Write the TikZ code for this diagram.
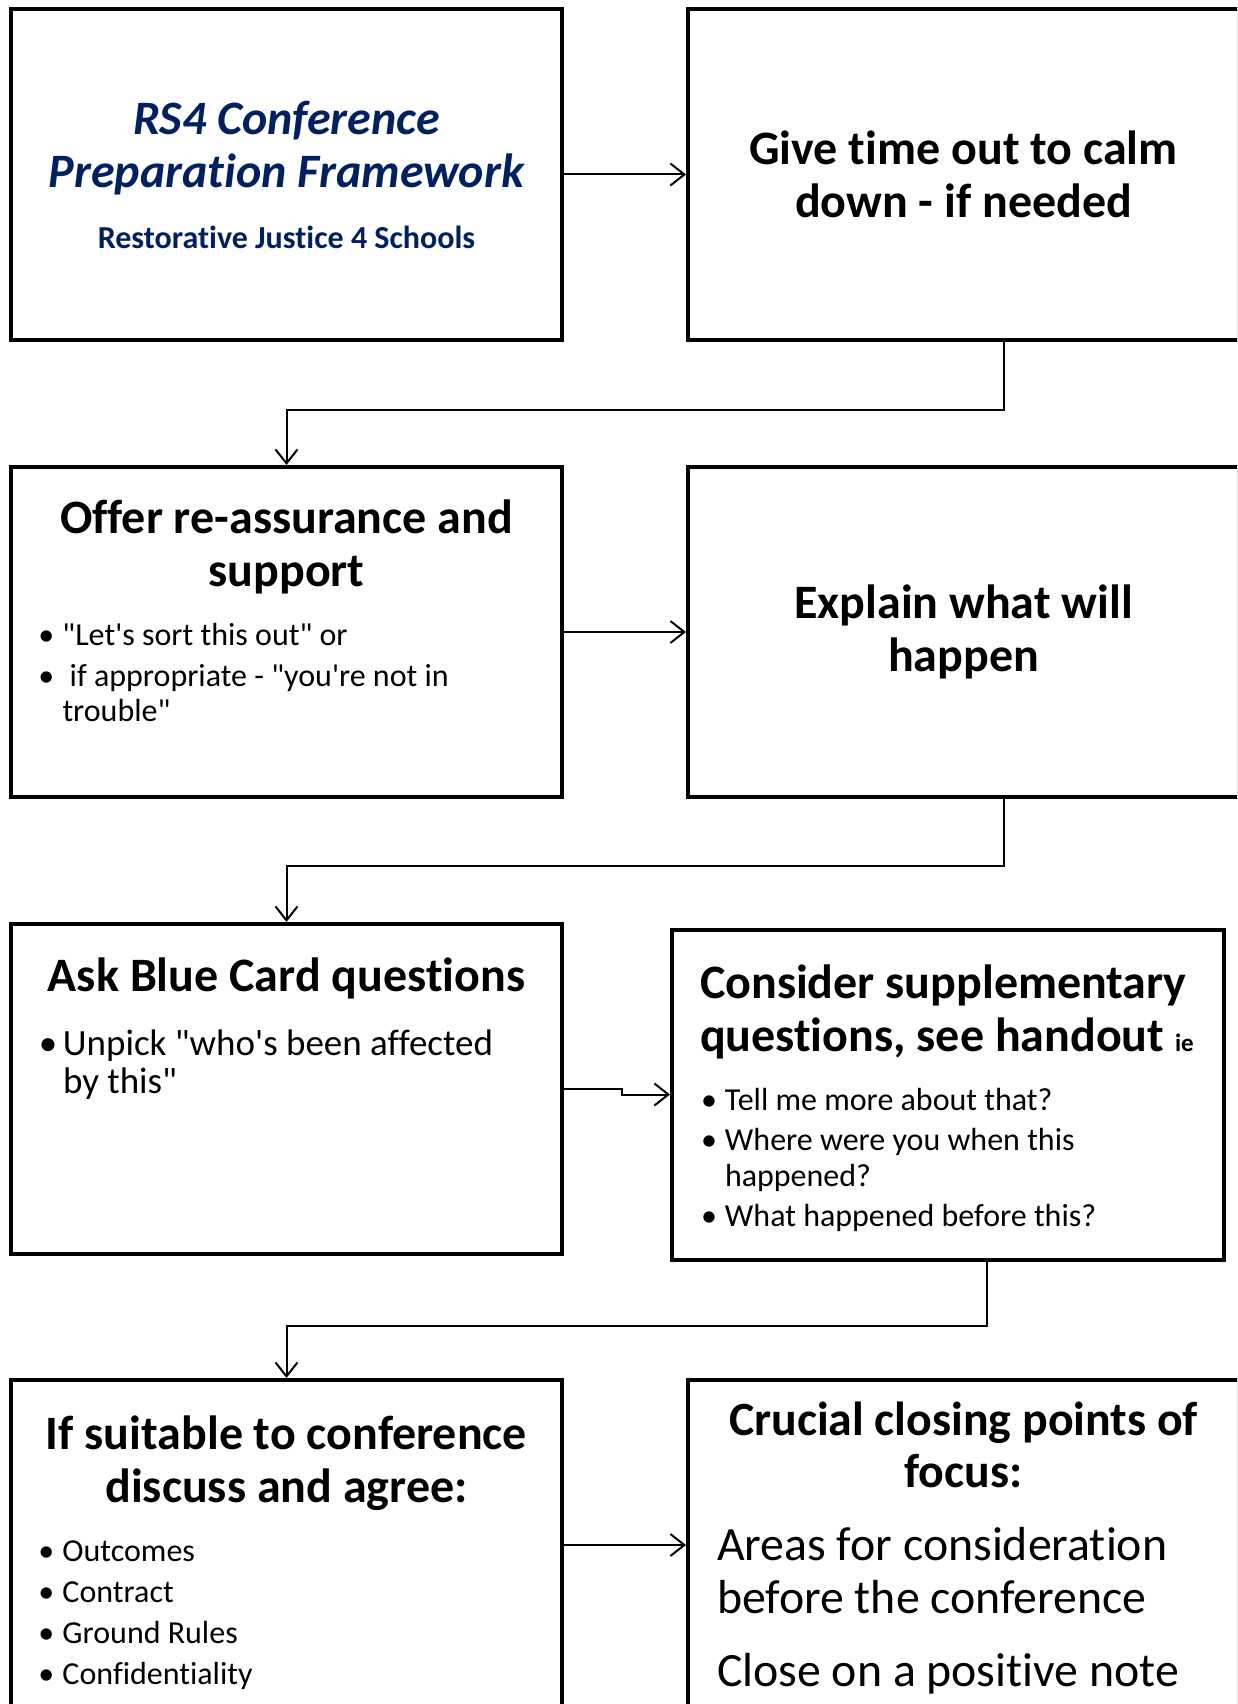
\documentclass[tikz,border=0pt]{standalone}
\usepackage{fontspec}
\setmainfont{Carlito}[Ligatures={TeXOff,NoCommon}]
\usepackage{tikz}
\usetikzlibrary{arrows.meta, positioning, calc}

\definecolor{rjnavy}{HTML}{002060}
\newcommand{\fixsp}{\spaceskip=0pt\xspaceskip=0pt\relax}
\newcommand{\nl}{\hfil\break}
\newcommand{\hdfont}{\fontsize{48}{53}\selectfont\bfseries}
\newcommand{\itemfont}{\fontsize{32}{35}\selectfont}
\newcommand{\hd}[1]{{\centering\hdfont\rule{0pt}{40pt}#1\par}}
\newcommand{\hdl}[1]{{\raggedright\fixsp\hdfont\rule{0pt}{40pt}#1\par}}
\newcommand{\bul}[2][6pt]{\par\vspace{#1}\hangindent=24pt\hangafter=1\noindent\makebox[24pt][l]{\textbullet}#2\par}

\begin{document}
\begin{tikzpicture}[x=1pt, y=-1pt,
    stepbox/.style={draw, rectangle, line width=4pt, minimum width=551pt, minimum height=330pt, inner sep=0pt},
    body/.style={anchor=north, inner sep=0pt, align=left},
    link/.style={-{Straight Barb[length=14pt,width=22pt]}, line width=2pt}]
    \path[fill=white, use as bounding box] (0,0) rectangle (1237,1704);
    \clip (0,0) rectangle (1237,1704);
    % first row
    \node[stepbox, text width=529pt, align=center, text=rjnavy] (intro) at (286.5,174.5) {\fixsp\centering{\hdfont\itshape RS4 Conference\\Preparation Framework\par}\vspace{25pt}{\fontsize{32}{36}\selectfont\bfseries Restorative Justice 4 Schools\par}};
    \node[stepbox, font=\hdfont, align=center] (calm) at (963.5,174.5) {Give time out to calm\\down - if needed};
    % second row
    \node[stepbox] (reassure) at (286.5,632) {};
    \node[body, text width=520pt] (reassuretxt) at ([yshift=-28pt]reassure.north) {\fixsp\hd{Offer re-assurance and\\support}\itemfont\leftskip=12pt
        \bul[24pt]{"Let's sort this out" or}\bul{ if appropriate - "you're not in\nl trouble"}};
    \node[stepbox, font=\hdfont, align=center] (explain) at (963.5,632) {Explain what will\\happen};
    % third row
    \node[stepbox] (bluecard) at (286.5,1089) {};
    \node[body, text width=520pt] (bluecardtxt) at ([yshift=-29pt]bluecard.north) {\fixsp\hd{Ask Blue Card questions}\fontsize{37}{38}\selectfont\leftskip=12.5pt
        \bul[26pt]{Unpick "who's been affected\nl by this"}};
    \node[stepbox, minimum width=552pt] (supp) at (948,1094.5) {};
    \node[body, text width=496pt] (supptxt) at ([yshift=-31pt]supp.north) {\fixsp\hdl{Consider supplementary\\questions, see handout {\fontsize{25}{25}\selectfont ie}}\fontsize{32}{36}\selectfont\leftskip=1pt
        \bul[23pt]{Tell me more about that?}\bul[4pt]{Where were you when this\nl happened?}\bul[4pt]{What happened before this?}};
    % last row
    \node[stepbox] (agree) at (286.5,1545) {};
    \node[body, text width=520pt] (agreetxt) at ([yshift=-31pt]agree.north) {\fixsp\hd{If suitable to conference\\discuss and agree:}\itemfont\leftskip=12pt
        \bul[24pt]{Outcomes}\bul{Contract}\bul{Ground Rules}\bul{Confidentiality}};
    \node[stepbox] (closing) at (963.5,1545) {};
    \node[body, text width=493pt] (closingtxt) at ([yshift=-17pt]closing.north) {\fixsp{\centering\fontsize{47.8}{52}\selectfont\bfseries\rule{0pt}{40pt}Crucial closing points of\\focus:\par}\fontsize{47.8}{53}\selectfont
        \vspace{20pt}Areas for consideration\nl before the conference\par\vspace{20pt}Close on a positive note\par};
    % connectors
    \coordinate (calmout) at ([xshift=40pt]calm.south);
    \coordinate (explainout) at ([xshift=40pt]explain.south);
    \coordinate (suppout) at ([xshift=39pt]supp.south);
    \draw[link] (intro) -- (calm);
    \draw[link] (calmout) -- ++(0,68) -| (reassure.north);
    \draw[link] (reassure) -- (explain);
    \draw[link] (explainout) -- ++(0,67) -| (bluecard.north);
    \draw[link] (bluecard.east) -- ++(58,0) |- (supp.west);
    \draw[link] (suppout) -- ++(0,64) -| (agree.north);
    \draw[link] (agree) -- (closing);
\end{tikzpicture}
\end{document}
